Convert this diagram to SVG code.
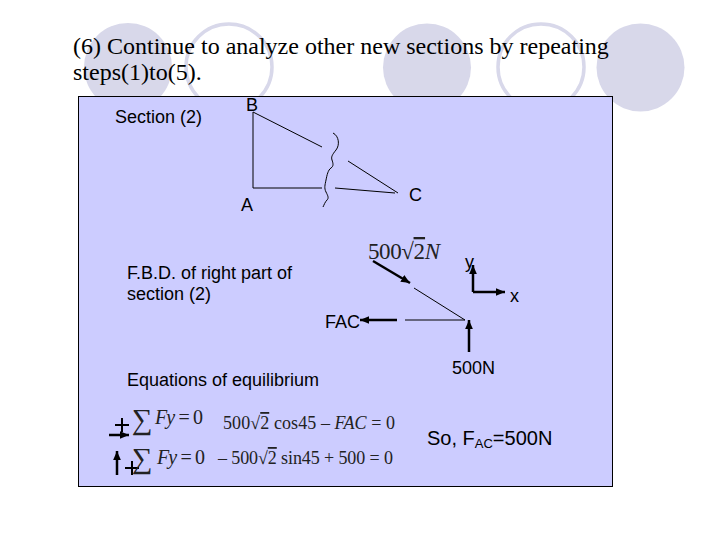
<svg xmlns="http://www.w3.org/2000/svg" width="720" height="540" viewBox="0 0 720 540">
<style>
.d{fill:#d8d8ea}.r{fill:none;stroke:#d8d8ea;stroke-width:3.500}
.t{font-family:"Liberation Serif",serif;font-size:24px;fill:#000}
.s{font-family:"Liberation Sans",Arial,sans-serif;font-size:18px;fill:#000}
.m{font-family:"Liberation Serif",serif;font-size:20px;fill:#222}
.g{font-size:29px}
.i{font-style:italic}
.o{text-decoration:overline}
.l{fill:none;stroke:#000;stroke-width:1}
.h{fill:none;stroke:#000;stroke-width:2.500}
.p{fill:none;stroke:#000;stroke-width:2}
</style>
<defs><marker id="a" markerWidth="9" markerHeight="8" refX="7" refY="3" orient="auto" markerUnits="userSpaceOnUse" viewBox="0 0 7 6"><path d="M0 0L7 3L0 6Z" fill="#000"/></marker></defs>
<rect width="720" height="540" fill="#fff"/>
<g id="decor">
<circle class="d" cx="128" cy="67" r="44"/><circle class="r" cx="229" cy="67" r="43"/><circle class="d" cx="427" cy="67.500" r="44"/><circle class="r" cx="541" cy="67" r="43"/><circle class="d" cx="640.500" cy="67.500" r="44"/>
</g>
<text class="t" x="73" y="54">(6) Continue to analyze other new sections by repeating</text>
<text class="t" x="73" y="80">steps(1)to(5).</text>
<rect id="panel" x="78.500" y="96.500" width="534" height="390" fill="#ccf" stroke="#000"/>
<g id="connectors">
<path class="l" d="M253 112V188H322M253 112L322 147M335 188L395 193M348 161L398 193"/>
<path class="l" d="M333 133C339 136 340 145 336 150S331 157 332 160S334 166 331 168S327 175 326 180S324 188 326 192S329 198 327 200S324 205 323 207"/>
<path class="l" d="M414 288L465 320H405"/>
<path class="h" d="M373 261L410 283" marker-end="url(#a)"/>
<path class="h" d="M473 292V265" marker-end="url(#a)"/>
<path class="h" d="M473 292H505" marker-end="url(#a)"/>
<path class="h" d="M397 320H360" marker-end="url(#a)"/>
<path class="h" d="M469 352V320" marker-end="url(#a)"/>
<path class="h" d="M109 435H129" marker-end="url(#a)"/>
<path class="h" d="M117 475V451" marker-end="url(#a)"/>
<path class="p" d="M115 425H129M122 418V432M125 468H139M132 461V475"/>
</g>
<g id="labels">
<text class="s" x="115" y="123">Section (2)</text>
<text class="s" x="246" y="111">B</text>
<text class="s" x="241" y="211">A</text>
<text class="s" x="409" y="201">C</text>
<text class="s" x="127" y="279">F.B.D. of right part of</text>
<text class="s" x="127" y="300">section (2)</text>
<text class="s" x="465" y="268">y</text>
<text class="s" x="510" y="302">x</text>
<text class="s" x="325" y="328">FAC</text>
<text class="s" x="452" y="374">500N</text>
<text class="s" x="127" y="386">Equations of equilibrium</text>
<text class="s" x="427" y="445" style="font-size:20px">So, F<tspan dy="3" style="font-size:13px">AC</tspan><tspan dy="-3">=500N</tspan></text>
<text class="m" x="368" y="259" textLength="72" style="font-size:23px">500√<tspan class="o">2</tspan><tspan class="i">N</tspan></text>
<text class="m g" x="132" y="429">∑</text>
<text class="m" x="155" y="424" textLength="48"><tspan class="i">Fy</tspan> = 0</text>
<text class="m" x="223" y="429" textLength="172" style="font-size:18px">500√<tspan class="o">2</tspan> cos45 – <tspan class="i">FAC</tspan> = 0</text>
<text class="m g" x="132" y="468">∑</text>
<text class="m" x="157" y="464" textLength="48"><tspan class="i">Fy</tspan> = 0</text>
<text class="m" x="218" y="464" textLength="175" style="font-size:18px">– 500√<tspan class="o">2</tspan> sin45 + 500 = 0</text>
</g>
</svg>
